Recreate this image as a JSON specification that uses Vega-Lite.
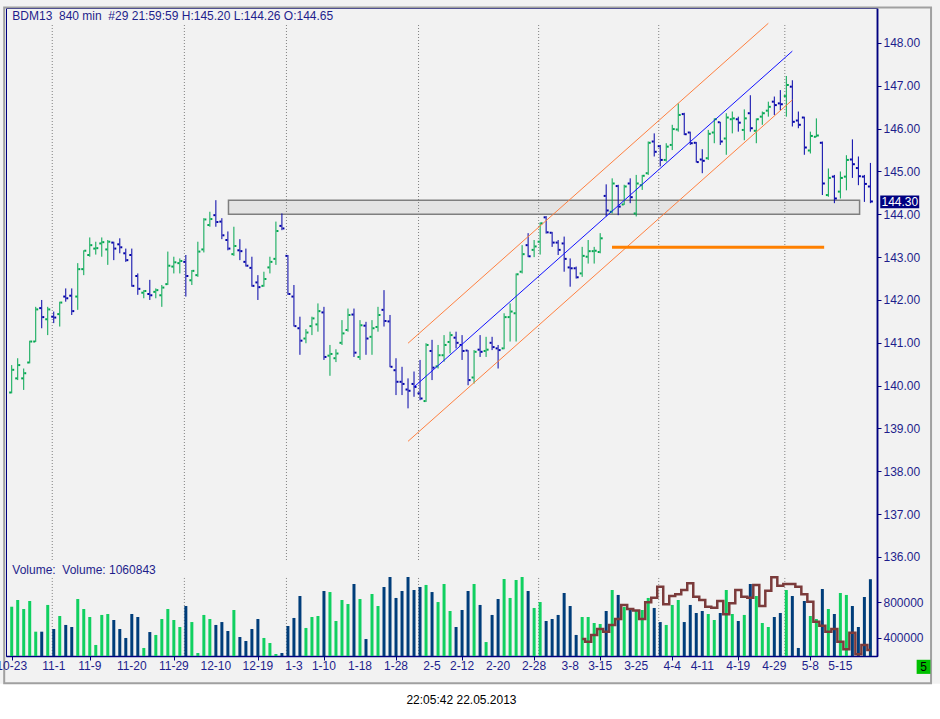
{
  "$schema": "https://vega.github.io/schema/vega-lite/v6.json",
  "width": 871,
  "height": 648,
  "autosize": {"type": "none"},
  "padding": {"left": 6, "top": 8, "right": 63, "bottom": 63},
  "background": "#f2f2f2",
  "config": {
    "font": "Liberation Sans",
    "view": {"stroke": "#000080", "strokeWidth": 1},
    "scale": {"continuousPadding": 0},
    "axis": {
      "grid": false,
      "title": null,
      "domainColor": "#000080",
      "domainWidth": 1.5,
      "tickColor": "#000080",
      "tickSize": 4,
      "labelColor": "#1e1e8c",
      "labelFontSize": 12,
      "labelPadding": 2
    }
  },
  "datasets": {
    "bars": [
      {"i":0,"o":139.84,"h":140.48,"l":139.82,"c":140.37,"v":750000},
      {"i":1,"o":140.17,"h":140.64,"l":140.13,"c":140.48,"v":826000},
      {"i":2,"o":140.17,"h":140.40,"l":139.90,"c":140.29,"v":724000},
      {"i":3,"o":140.54,"h":141.05,"l":140.52,"c":141.03,"v":815000},
      {"i":4,"o":141.03,"h":141.84,"l":141.02,"c":141.78,"v":468000},
      {"i":5,"o":141.81,"h":142.00,"l":141.34,"c":141.60,"v":468000},
      {"i":6,"o":141.55,"h":141.84,"l":141.18,"c":141.78,"v":770000},
      {"i":7,"o":141.61,"h":141.73,"l":141.46,"c":141.59,"v":498000},
      {"i":8,"o":141.67,"h":141.96,"l":141.38,"c":141.94,"v":645000},
      {"i":9,"o":142.08,"h":142.27,"l":141.96,"c":142.04,"v":544000},
      {"i":10,"o":142.10,"h":142.27,"l":141.65,"c":141.74,"v":521000},
      {"i":11,"o":142.08,"h":142.86,"l":141.77,"c":142.72,"v":837000},
      {"i":12,"o":142.72,"h":143.16,"l":142.58,"c":143.15,"v":724000},
      {"i":13,"o":143.05,"h":143.46,"l":143.01,"c":143.28,"v":634000},
      {"i":14,"o":143.20,"h":143.36,"l":143.06,"c":143.21,"v":318000},
      {"i":15,"o":143.32,"h":143.46,"l":143.01,"c":143.35,"v":657000},
      {"i":16,"o":143.18,"h":143.40,"l":142.82,"c":143.36,"v":668000},
      {"i":17,"o":143.34,"h":143.36,"l":142.93,"c":143.20,"v":600000},
      {"i":18,"o":143.30,"h":143.44,"l":143.09,"c":143.23,"v":498000},
      {"i":19,"o":143.09,"h":143.20,"l":142.89,"c":142.93,"v":397000},
      {"i":20,"o":143.05,"h":143.20,"l":142.31,"c":142.33,"v":668000},
      {"i":21,"o":142.56,"h":142.62,"l":142.12,"c":142.26,"v":634000},
      {"i":22,"o":142.17,"h":142.23,"l":142.04,"c":142.21,"v":284000},
      {"i":23,"o":142.14,"h":142.47,"l":142.00,"c":142.11,"v":464000},
      {"i":24,"o":142.19,"h":142.27,"l":142.04,"c":142.23,"v":431000},
      {"i":25,"o":142.11,"h":142.35,"l":141.84,"c":142.29,"v":611000},
      {"i":26,"o":142.37,"h":143.13,"l":142.35,"c":142.80,"v":724000},
      {"i":27,"o":142.78,"h":143.01,"l":142.62,"c":142.88,"v":600000},
      {"i":28,"o":142.86,"h":142.97,"l":142.62,"c":142.91,"v":521000},
      {"i":29,"o":142.89,"h":143.05,"l":142.08,"c":142.56,"v":758000},
      {"i":30,"o":142.46,"h":142.70,"l":142.35,"c":142.68,"v":577000},
      {"i":31,"o":142.58,"h":143.36,"l":142.54,"c":143.13,"v":227000},
      {"i":32,"o":143.18,"h":143.91,"l":143.11,"c":143.88,"v":657000},
      {"i":33,"o":143.75,"h":144.06,"l":143.71,"c":143.89,"v":611000},
      {"i":34,"o":143.98,"h":144.33,"l":143.71,"c":143.82,"v":544000},
      {"i":35,"o":143.83,"h":143.91,"l":143.42,"c":143.51,"v":577000},
      {"i":36,"o":143.40,"h":143.60,"l":143.16,"c":143.20,"v":476000},
      {"i":37,"o":143.07,"h":143.71,"l":143.03,"c":143.26,"v":713000},
      {"i":38,"o":143.16,"h":143.42,"l":142.93,"c":143.14,"v":408000},
      {"i":39,"o":142.89,"h":143.20,"l":142.78,"c":142.80,"v":363000},
      {"i":40,"o":142.75,"h":143.01,"l":142.31,"c":142.33,"v":498000},
      {"i":41,"o":142.41,"h":142.58,"l":142.00,"c":142.30,"v":611000},
      {"i":42,"o":142.33,"h":142.66,"l":142.31,"c":142.49,"v":397000},
      {"i":43,"o":142.76,"h":143.01,"l":142.62,"c":142.89,"v":340000},
      {"i":44,"o":142.96,"h":143.83,"l":142.82,"c":143.61,"v":216000},
      {"i":45,"o":143.73,"h":144.02,"l":143.63,"c":143.67,"v":227000},
      {"i":46,"o":143.03,"h":143.05,"l":142.12,"c":142.14,"v":532000},
      {"i":47,"o":142.08,"h":142.35,"l":141.38,"c":141.39,"v":623000},
      {"i":48,"o":141.34,"h":141.61,"l":140.72,"c":141.05,"v":871000},
      {"i":49,"o":141.10,"h":141.32,"l":140.99,"c":141.24,"v":510000},
      {"i":50,"o":141.39,"h":141.61,"l":141.18,"c":141.57,"v":634000},
      {"i":51,"o":141.43,"h":141.92,"l":141.26,"c":141.74,"v":645000},
      {"i":52,"o":141.71,"h":141.84,"l":140.60,"c":140.67,"v":928000},
      {"i":53,"o":140.70,"h":140.95,"l":140.23,"c":140.74,"v":916000},
      {"i":54,"o":140.64,"h":140.85,"l":140.55,"c":140.75,"v":589000},
      {"i":55,"o":141.00,"h":141.53,"l":140.95,"c":141.22,"v":826000},
      {"i":56,"o":141.30,"h":141.80,"l":141.26,"c":141.65,"v":781000},
      {"i":57,"o":141.66,"h":141.80,"l":140.67,"c":140.77,"v":1007000},
      {"i":58,"o":140.67,"h":141.53,"l":140.60,"c":141.41,"v":837000},
      {"i":59,"o":141.40,"h":141.49,"l":140.72,"c":141.10,"v":385000},
      {"i":60,"o":141.14,"h":141.53,"l":140.72,"c":141.34,"v":894000},
      {"i":61,"o":141.37,"h":141.84,"l":141.26,"c":141.65,"v":758000},
      {"i":62,"o":141.77,"h":142.23,"l":141.38,"c":141.51,"v":973000},
      {"i":63,"o":141.50,"h":141.65,"l":140.43,"c":140.44,"v":1086000},
      {"i":64,"o":140.36,"h":140.64,"l":139.78,"c":140.09,"v":849000},
      {"i":65,"o":140.09,"h":140.44,"l":139.78,"c":140.04,"v":928000},
      {"i":66,"o":139.91,"h":140.17,"l":139.47,"c":139.88,"v":1086000},
      {"i":67,"o":140.04,"h":140.33,"l":139.74,"c":139.97,"v":939000},
      {"i":68,"o":139.82,"h":140.60,"l":139.66,"c":139.70,"v":973000},
      {"i":69,"o":139.64,"h":140.99,"l":139.62,"c":140.95,"v":996000},
      {"i":70,"o":140.81,"h":141.07,"l":140.13,"c":140.42,"v":916000},
      {"i":71,"o":140.45,"h":140.95,"l":140.40,"c":140.71,"v":803000},
      {"i":72,"o":140.71,"h":141.18,"l":140.56,"c":140.95,"v":1007000},
      {"i":73,"o":141.02,"h":141.26,"l":140.75,"c":141.18,"v":702000},
      {"i":74,"o":141.12,"h":141.26,"l":140.87,"c":141.00,"v":521000},
      {"i":75,"o":140.95,"h":141.18,"l":140.60,"c":140.81,"v":713000},
      {"i":76,"o":140.82,"h":140.83,"l":140.01,"c":140.13,"v":928000},
      {"i":77,"o":140.19,"h":140.83,"l":140.05,"c":140.79,"v":1007000},
      {"i":78,"o":140.84,"h":141.18,"l":140.67,"c":140.79,"v":770000},
      {"i":79,"o":140.81,"h":141.14,"l":140.67,"c":140.84,"v":351000},
      {"i":80,"o":141.00,"h":141.14,"l":140.83,"c":140.90,"v":657000},
      {"i":81,"o":140.87,"h":140.95,"l":140.40,"c":140.83,"v":837000},
      {"i":82,"o":140.87,"h":141.69,"l":140.85,"c":141.60,"v":1063000},
      {"i":83,"o":141.60,"h":141.92,"l":141.03,"c":141.73,"v":849000},
      {"i":84,"o":141.69,"h":142.62,"l":141.03,"c":142.60,"v":1052000},
      {"i":85,"o":142.66,"h":143.28,"l":142.62,"c":143.07,"v":1086000},
      {"i":86,"o":143.28,"h":143.56,"l":143.00,"c":143.02,"v":928000},
      {"i":87,"o":143.17,"h":143.40,"l":143.00,"c":143.25,"v":736000},
      {"i":88,"o":143.36,"h":143.81,"l":143.06,"c":143.79,"v":803000},
      {"i":89,"o":143.93,"h":143.96,"l":143.55,"c":143.58,"v":589000},
      {"i":90,"o":143.57,"h":143.59,"l":143.24,"c":143.34,"v":611000},
      {"i":91,"o":143.34,"h":143.40,"l":143.05,"c":143.17,"v":657000},
      {"i":92,"o":143.32,"h":143.48,"l":142.66,"c":142.96,"v":905000},
      {"i":93,"o":142.76,"h":142.97,"l":142.31,"c":142.74,"v":758000},
      {"i":94,"o":142.74,"h":142.78,"l":142.50,"c":142.53,"v":431000},
      {"i":95,"o":142.62,"h":143.24,"l":142.54,"c":143.03,"v":634000},
      {"i":96,"o":143.01,"h":143.40,"l":142.85,"c":143.14,"v":634000},
      {"i":97,"o":143.14,"h":143.24,"l":142.85,"c":143.15,"v":566000},
      {"i":98,"o":143.12,"h":143.56,"l":143.09,"c":143.44,"v":555000},
      {"i":99,"o":144.43,"h":144.70,"l":143.95,"c":144.09,"v":702000},
      {"i":100,"o":144.06,"h":144.84,"l":144.02,"c":144.72,"v":939000},
      {"i":101,"o":144.66,"h":144.69,"l":143.98,"c":144.18,"v":883000},
      {"i":102,"o":144.23,"h":144.69,"l":144.22,"c":144.65,"v":747000},
      {"i":103,"o":144.72,"h":144.84,"l":144.26,"c":144.40,"v":724000},
      {"i":104,"o":144.02,"h":144.92,"l":143.95,"c":144.72,"v":713000},
      {"i":105,"o":144.68,"h":144.92,"l":144.57,"c":144.90,"v":713000},
      {"i":106,"o":144.96,"h":145.70,"l":144.92,"c":145.67,"v":849000},
      {"i":107,"o":145.70,"h":145.89,"l":145.35,"c":145.46,"v":736000},
      {"i":108,"o":145.59,"h":145.62,"l":145.12,"c":145.27,"v":577000},
      {"i":109,"o":145.27,"h":145.66,"l":145.23,"c":145.58,"v":544000},
      {"i":110,"o":145.62,"h":146.09,"l":145.50,"c":145.99,"v":770000},
      {"i":111,"o":145.98,"h":146.59,"l":145.93,"c":146.32,"v":826000},
      {"i":112,"o":146.34,"h":146.37,"l":145.85,"c":145.87,"v":577000},
      {"i":113,"o":145.91,"h":145.93,"l":145.62,"c":145.66,"v":770000},
      {"i":114,"o":145.67,"h":145.69,"l":145.21,"c":145.22,"v":679000},
      {"i":115,"o":145.28,"h":145.52,"l":144.96,"c":145.25,"v":702000},
      {"i":116,"o":145.31,"h":145.97,"l":145.27,"c":145.88,"v":668000},
      {"i":117,"o":145.91,"h":146.24,"l":145.66,"c":146.22,"v":600000},
      {"i":118,"o":146.15,"h":146.16,"l":145.62,"c":145.70,"v":679000},
      {"i":119,"o":145.77,"h":146.36,"l":145.39,"c":146.26,"v":939000},
      {"i":120,"o":146.22,"h":146.40,"l":145.89,"c":146.24,"v":668000},
      {"i":121,"o":146.22,"h":146.28,"l":145.93,"c":146.14,"v":589000},
      {"i":122,"o":145.97,"h":146.45,"l":145.73,"c":146.24,"v":657000},
      {"i":123,"o":146.36,"h":146.78,"l":145.93,"c":146.01,"v":1007000},
      {"i":124,"o":145.95,"h":146.24,"l":145.66,"c":146.22,"v":871000},
      {"i":125,"o":146.28,"h":146.40,"l":146.09,"c":146.36,"v":566000},
      {"i":126,"o":146.42,"h":146.63,"l":146.28,"c":146.51,"v":521000},
      {"i":127,"o":146.63,"h":146.75,"l":146.32,"c":146.55,"v":634000},
      {"i":128,"o":146.59,"h":146.90,"l":146.43,"c":146.57,"v":679000},
      {"i":129,"o":146.76,"h":147.23,"l":146.28,"c":147.02,"v":939000},
      {"i":130,"o":146.98,"h":147.13,"l":146.05,"c":146.16,"v":871000},
      {"i":131,"o":146.19,"h":146.40,"l":146.01,"c":146.09,"v":284000},
      {"i":132,"o":146.26,"h":146.28,"l":145.39,"c":145.56,"v":815000},
      {"i":133,"o":145.49,"h":145.93,"l":145.42,"c":145.83,"v":645000},
      {"i":134,"o":145.81,"h":146.24,"l":145.80,"c":145.84,"v":611000},
      {"i":135,"o":145.67,"h":145.70,"l":144.45,"c":144.72,"v":950000},
      {"i":136,"o":144.45,"h":145.07,"l":144.41,"c":144.85,"v":724000},
      {"i":137,"o":144.88,"h":144.92,"l":144.26,"c":144.37,"v":668000},
      {"i":138,"o":144.53,"h":145.00,"l":144.37,"c":144.85,"v":905000},
      {"i":139,"o":144.88,"h":145.38,"l":144.56,"c":145.27,"v":883000},
      {"i":140,"o":145.28,"h":145.75,"l":144.85,"c":145.17,"v":758000},
      {"i":141,"o":145.08,"h":145.35,"l":144.68,"c":144.89,"v":521000},
      {"i":142,"o":144.88,"h":144.92,"l":144.29,"c":144.71,"v":860000},
      {"i":143,"o":144.65,"h":145.20,"l":144.26,"c":144.30,"v":1060843}
    ],
    "oi": [
      {"i":95,"oi":385000},{"i":96,"oi":355000},{"i":97,"oi":431000},{"i":98,"oi":498000},
      {"i":99,"oi":468000},{"i":100,"oi":544000},{"i":101,"oi":611000},{"i":102,"oi":770000},
      {"i":103,"oi":724000},{"i":104,"oi":706000},{"i":105,"oi":611000},{"i":106,"oi":800000},
      {"i":107,"oi":852000},{"i":108,"oi":977000},{"i":109,"oi":777000},{"i":110,"oi":871000},
      {"i":111,"oi":890000},{"i":112,"oi":939000},{"i":113,"oi":1014000},{"i":114,"oi":864000},
      {"i":115,"oi":826000},{"i":116,"oi":751000},{"i":117,"oi":739000},{"i":118,"oi":815000},
      {"i":119,"oi":664000},{"i":120,"oi":788000},{"i":121,"oi":939000},{"i":122,"oi":864000},
      {"i":123,"oi":852000},{"i":124,"oi":995000},{"i":125,"oi":758000},{"i":126,"oi":931000},
      {"i":127,"oi":1082000},{"i":128,"oi":988000},{"i":129,"oi":1007000},{"i":130,"oi":1007000},
      {"i":131,"oi":977000},{"i":132,"oi":890000},{"i":133,"oi":807000},{"i":134,"oi":581000},
      {"i":135,"oi":536000},{"i":136,"oi":468000},{"i":137,"oi":498000},{"i":138,"oi":355000},
      {"i":139,"oi":269000},{"i":140,"oi":457000},{"i":141,"oi":212000},{"i":142,"oi":318000},
      {"i":143,"oi":261000}
    ],
    "months": [{"i":7},{"i":29},{"i":46},{"i":68},{"i":88},{"i":108},{"i":129}],
    "dates": [
      {"i":0,"d":"10-23"},{"i":7,"d":"11-1"},{"i":13,"d":"11-9"},{"i":20,"d":"11-20"},
      {"i":27,"d":"11-29"},{"i":34,"d":"12-10"},{"i":41,"d":"12-19"},{"i":47,"d":"1-3"},
      {"i":52,"d":"1-10"},{"i":58,"d":"1-18"},{"i":64,"d":"1-28"},{"i":70,"d":"2-5"},
      {"i":75,"d":"2-12"},{"i":81,"d":"2-20"},{"i":87,"d":"2-28"},{"i":93,"d":"3-8"},
      {"i":98,"d":"3-15"},{"i":104,"d":"3-25"},{"i":110,"d":"4-4"},{"i":115,"d":"4-11"},
      {"i":121,"d":"4-19"},{"i":127,"d":"4-29"},{"i":133,"d":"5-8"},{"i":138,"d":"5-15"}
    ],
    "channel": [
      {"seg":"upper","i":66,"p":140.99},{"seg":"upper","i":126,"p":148.46},
      {"seg":"mid","i":67,"p":139.97},{"seg":"mid","i":130,"p":147.81},
      {"seg":"lower","i":66,"p":138.70},{"seg":"lower","i":130,"p":146.67}
    ],
    "level": [{"i":99.97,"p":143.23},{"i":135.3,"p":143.23}]
  },
  "layer": [
    {
      "layer": [
        {
          "data": {"values": [{}]},
          "mark": {"type": "rect", "fill": "#ffffff"},
          "encoding": {
            "x": {"datum": -3, "type": "quantitative", "scale": {"domain": [-0.95, 144.1], "nice": false, "zero": false, "padding": 0}},
            "x2": {"datum": 158},
            "y": {
              "datum": 133.04,
              "type": "quantitative",
              "scale": {"domain": [133.688, 148.817], "nice": false, "zero": false},
              "axis": {
                "orient": "right",
                "values": [136,137,138,139,140,141,142,143,144,145,146,147,148],
                "format": ".2f"
              }
            },
            "y2": {"datum": 131.5}
          }
        },
        {
          "data": {"values": [{}]},
          "mark": {"type": "rect", "fill": null, "stroke": "#a0a0a0", "strokeWidth": 2},
          "encoding": {
            "x": {"datum": -1.25, "type": "quantitative"},
            "x2": {"datum": 153.1},
            "y": {"datum": 148.83, "type": "quantitative"},
            "y2": {"datum": 133.05}
          }
        },
        {
          "data": {"values": [{}]},
          "mark": {"type": "rect", "fill": "#e4e4e4", "stroke": "#7f7f7f", "strokeWidth": 1.5},
          "encoding": {
            "x": {"datum": 36.1, "type": "quantitative"},
            "x2": {"datum": 141.2},
            "y": {"datum": 144.33, "type": "quantitative"},
            "y2": {"datum": 144.0}
          }
        },
        {
          "data": {"name": "months"},
          "mark": {"type": "rule", "color": "#808080", "strokeDash": [1, 2], "xOffset": -1.5},
          "encoding": {
            "x": {"field": "i", "type": "quantitative"},
            "y": {"datum": 148.42, "type": "quantitative"},
            "y2": {"datum": 135.93}
          }
        },
        {
          "data": {"name": "months"},
          "mark": {"type": "rule", "color": "#808080", "strokeDash": [1, 2], "xOffset": -1.5},
          "encoding": {
            "x": {"field": "i", "type": "quantitative"},
            "y": {"datum": 135.51, "type": "quantitative"},
            "y2": {"datum": 133.69}
          }
        },
        {
          "data": {"name": "bars"},
          "mark": {"type": "rule", "strokeWidth": 1},
          "encoding": {
            "x": {
              "field": "i",
              "type": "quantitative",
              "scale": {"domain": [-0.95, 144.1], "nice": false, "zero": false, "padding": 0},
              "axis": {
                "values": [0,7,13,20,27,34,41,47,52,58,64,70,75,81,87,93,98,104,110,115,121,127,133,138],
                "labels": false
              }
            },
            "y": {"field": "l", "type": "quantitative"},
            "y2": {"field": "h"},
            "color": {"condition": {"test": "datum.c >= datum.o", "value": "#00a650"}, "value": "#0000a8"}
          }
        },
        {
          "data": {"name": "bars"},
          "mark": {"type": "rule", "strokeWidth": 2, "xOffset": -2.5, "x2Offset": -0.5},
          "encoding": {
            "x": {"field": "i", "type": "quantitative"},
            "x2": {"field": "i"},
            "y": {"field": "o", "type": "quantitative"},
            "color": {"condition": {"test": "datum.c >= datum.o", "value": "#00a650"}, "value": "#0000a8"}
          }
        },
        {
          "data": {"name": "bars"},
          "mark": {"type": "rule", "strokeWidth": 2, "xOffset": 0.5, "x2Offset": 2.5},
          "encoding": {
            "x": {"field": "i", "type": "quantitative"},
            "x2": {"field": "i"},
            "y": {"field": "c", "type": "quantitative"},
            "color": {"condition": {"test": "datum.c >= datum.o", "value": "#00a650"}, "value": "#0000a8"}
          }
        },
        {
          "data": {"name": "channel"},
          "mark": {"type": "line", "strokeWidth": 1},
          "encoding": {
            "x": {"field": "i", "type": "quantitative"},
            "y": {"field": "p", "type": "quantitative"},
            "detail": {"field": "seg"},
            "color": {
              "field": "seg",
              "type": "nominal",
              "scale": {"domain": ["upper", "mid", "lower"], "range": ["#ff8040", "#1010ff", "#ff8040"]},
              "legend": null
            }
          }
        },
        {
          "data": {"name": "level"},
          "mark": {"type": "line", "strokeWidth": 3, "color": "#ff8000"},
          "encoding": {
            "x": {"field": "i", "type": "quantitative"},
            "y": {"field": "p", "type": "quantitative"}
          }
        },
        {
          "data": {"name": "dates"},
          "mark": {"type": "text", "align": "center", "baseline": "top", "fontSize": 12, "color": "#1e1e8c"},
          "encoding": {
            "x": {"field": "i", "type": "quantitative"},
            "y": {"datum": 133.58, "type": "quantitative"},
            "text": {"field": "d"}
          }
        },
        {
          "data": {"values": [{"t": "BDM13\u00a0 840 min\u00a0 #29 21:59:59 H:145.20 L:144.26 O:144.65"}]},
          "mark": {"type": "text", "align": "left", "baseline": "middle", "fontSize": 12, "color": "#1e1e8c"},
          "encoding": {
            "x": {"datum": 0.1, "type": "quantitative"},
            "y": {"datum": 148.62, "type": "quantitative"},
            "text": {"field": "t"}
          }
        },
        {
          "data": {"values": [{"t": "Volume:\u00a0 Volume: 1060843"}]},
          "mark": {"type": "text", "align": "left", "baseline": "middle", "fontSize": 12, "color": "#1e1e8c"},
          "encoding": {
            "x": {"datum": 0.1, "type": "quantitative"},
            "y": {"datum": 135.70, "type": "quantitative"},
            "text": {"field": "t"}
          }
        },
        {
          "data": {"values": [{}]},
          "mark": {"type": "rect", "fill": "#000080"},
          "encoding": {
            "x": {"datum": 144.64, "type": "quantitative"},
            "x2": {"datum": 151.13},
            "y": {"datum": 144.44, "type": "quantitative"},
            "y2": {"datum": 144.14}
          }
        },
        {
          "data": {"values": [{"t": "144.30"}]},
          "mark": {"type": "text", "align": "left", "baseline": "middle", "fontSize": 12, "color": "#ffffff"},
          "encoding": {
            "x": {"datum": 144.85, "type": "quantitative"},
            "y": {"datum": 144.29, "type": "quantitative"},
            "text": {"field": "t"}
          }
        },
        {
          "data": {"values": [{}]},
          "mark": {"type": "rect", "fill": "#00c000"},
          "encoding": {
            "x": {"datum": 150.7, "type": "quantitative"},
            "x2": {"datum": 153.0},
            "y": {"datum": 133.60, "type": "quantitative"},
            "y2": {"datum": 133.27}
          }
        },
        {
          "data": {"values": [{"t": "5"}]},
          "mark": {"type": "text", "align": "center", "baseline": "middle", "fontSize": 12, "color": "#000000"},
          "encoding": {
            "x": {"datum": 151.85, "type": "quantitative"},
            "y": {"datum": 133.43, "type": "quantitative"},
            "text": {"field": "t"}
          }
        },
        {
          "data": {"values": [{"t": "22:05:42 22.05.2013"}]},
          "mark": {"type": "text", "align": "center", "baseline": "middle", "fontSize": 12, "color": "#000000"},
          "encoding": {
            "x": {"datum": 74.9, "type": "quantitative"},
            "y": {"datum": 132.66, "type": "quantitative"},
            "text": {"field": "t"}
          }
        }
      ]
    },
    {
      "layer": [
        {
          "data": {"name": "bars"},
          "mark": {"type": "bar", "size": 3},
          "encoding": {
            "x": {"field": "i", "type": "quantitative", "scale": {"domain": [-0.95, 144.1], "nice": false, "zero": false, "padding": 0}},
            "y": {
              "field": "v",
              "type": "quantitative",
              "scale": {"domain": [193220, 7515254], "nice": false, "zero": false},
              "axis": {"orient": "right", "values": [400000, 800000], "format": "d"}
            },
            "y2": {"datum": 193220},
            "color": {"condition": {"test": "datum.c >= datum.o", "value": "#10d060"}, "value": "#003d7a"}
          }
        },
        {
          "data": {"name": "oi"},
          "mark": {"type": "line", "interpolate": "step", "strokeWidth": 2.5, "color": "#7b3b3b"},
          "encoding": {
            "x": {"field": "i", "type": "quantitative"},
            "y": {"field": "oi", "type": "quantitative"}
          }
        }
      ]
    }
  ],
  "resolve": {"scale": {"y": "independent"}, "axis": {"y": "independent"}}
}
